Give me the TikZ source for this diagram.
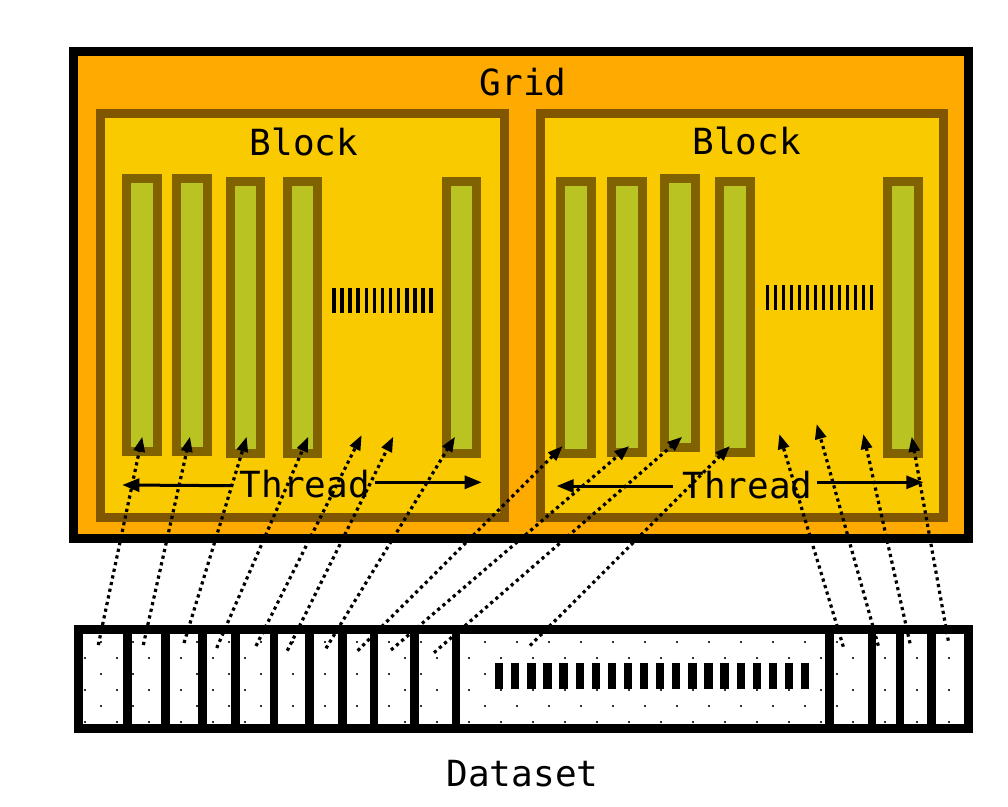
\documentclass[tikz,border=0pt]{standalone}
\usepackage{fontspec}
\newfontfamily\monof{DejaVu Sans Mono}
\usetikzlibrary{arrows.meta}
\definecolor{gridfill}{RGB}{255,170,0}
\definecolor{blockfill}{RGB}{250,202,0}
\definecolor{blockline}{RGB}{128,87,0}
\definecolor{threadline}{RGB}{128,98,0}
\definecolor{threadfill}{RGB}{185,195,34}
\tikzset{
  gridbox/.style={draw=black, fill=gridfill, line width=9pt},
  blockbox/.style={draw=blockline, fill=blockfill, line width=9pt},
  threadbox/.style={draw=threadline, fill=threadfill, line width=9pt},
  txt/.style={font=\monof\fontsize{36}{40}\selectfont, inner sep=0pt, anchor=base},
  maparrow/.style={line width=3.2pt, dash pattern=on 3.2pt off 3.6pt, -{Triangle[length=15pt,width=11pt]}},
  spanarrow/.style={line width=3pt, -{Triangle[length=17pt,width=13pt]}},
  divider/.style={line width=8.5pt},
  databox/.style={draw=black, line width=9pt}
}
\begin{document}
\begin{tikzpicture}[x=1pt,y=-1pt]
\useasboundingbox (0,0) rectangle (1008,806);
% grid
\draw[gridbox] (73.5,51.5) rectangle (968,538);
% blocks
\draw[blockbox] (100.5,113.5) rectangle (504.5,517.5);
\draw[blockbox] (540.5,113.5) rectangle (943.5,517.5);
% threads block 1
\draw[threadbox] (126.5,178.5) rectangle (157.5,451.5);
\draw[threadbox] (176.5,178.5) rectangle (207.5,451.5);
\draw[threadbox] (230.5,181.5) rectangle (260.5,453.5);
\draw[threadbox] (287.5,181.5) rectangle (317.5,453.5);
\draw[threadbox] (446.5,181.5) rectangle (476.5,453.5);
% threads block 2
\draw[threadbox] (560.5,181.2) rectangle (591.2,453.5);
\draw[threadbox] (611.8,181.2) rectangle (642.8,452.5);
\draw[threadbox] (664.5,178.5) rectangle (695.5,447.2);
\draw[threadbox] (719.5,181.2) rectangle (750.5,452.5);
\draw[threadbox] (887.8,181.2) rectangle (918.8,453.5);
% ellipsis bars in blocks
\foreach \i in {0,...,12} \fill (332.3+\i*8.06,288.3) rectangle ++(3.7,25);
\foreach \i in {0,...,13} \fill (765.7+\i*8.0,285) rectangle ++(3.7,25);
% labels
\node[txt] (gridlbl) at (523,95.7) {Grid};
\node[txt] (blockA) at (304,155) {Block};
\node[txt] (blockB) at (746.7,154) {Block};
\node[txt] (threadA) at (305,497.3) {Thread};
\node[txt] (threadB) at (747.5,498) {Thread};
\node[txt] (datalbl) at (522.5,786.7) {Dataset};
% thread span arrows
\coordinate (sa1) at (231.7,485.7); \coordinate (sa2) at (122.3,485);
\coordinate (sa3) at (375,482.3);   \coordinate (sa4) at (481.7,482.3);
\coordinate (sb1) at (673.3,486);   \coordinate (sb2) at (556.7,486);
\coordinate (sb3) at (816.7,482.3); \coordinate (sb4) at (923.3,482.3);
\draw[spanarrow] (sa1) -- (sa2);
\draw[spanarrow] (sa3) -- (sa4);
\draw[spanarrow] (sb1) -- (sb2);
\draw[spanarrow] (sb3) -- (sb4);
% dataset
\fill[white] (78.5,629.5) rectangle (968.5,728.5);
\begin{scope}
\clip (83,634) rectangle (964,724);
\foreach \k in {0,2,4} \foreach \m in {0,...,28}
  \fill[black!80] (69+\m*32-0.9,641.7+\k*16-0.9) rectangle ++(1.8,1.8);
\foreach \k in {1,3,5} \foreach \m in {0,...,28}
  \fill[black!80] (85+\m*32-0.9,641.7+\k*16-0.9) rectangle ++(1.8,1.8);
\end{scope}
\foreach \x in {127.5,165.5,202.3,235.5,273.8,309.5,342.5,373.8,414.5,456.2,829.3,872.2,900,931.7}
  \draw[divider] (\x,629.5) -- (\x,728.5);
\foreach \i in {0,...,19} \fill (495+\i*16.1,663.3) rectangle ++(8.3,25.4);
\draw[databox] (78.5,629.5) rectangle (968.5,728.5);
% mapping arrows
\coordinate (d1) at (98.3,645);   \coordinate (t1) at (142.3,436.7);
\coordinate (d2) at (143.3,645);  \coordinate (t2) at (190,436.7);
\coordinate (d3) at (184,643);    \coordinate (t3) at (246.7,436.7);
\coordinate (d4) at (216.7,648);  \coordinate (t4) at (308.3,436.7);
\coordinate (d5) at (256,646);    \coordinate (t5) at (361.7,435);
\coordinate (d6) at (287.3,650.7);\coordinate (t6) at (393.3,436.7);
\coordinate (d7) at (326,648.3);  \coordinate (t7) at (455,436.7);
\coordinate (d8) at (357.7,650.7);\coordinate (t8) at (562.7,446);
\coordinate (d9) at (391,650);    \coordinate (t9) at (629.3,446);
\coordinate (d10) at (434,652.7); \coordinate (t10) at (682.3,436.7);
\coordinate (d11) at (530,645.7); \coordinate (t11) at (730,446);
\coordinate (d12) at (843.3,646.7);\coordinate (t12) at (779.3,434);
\coordinate (d13) at (878.3,645.7);\coordinate (t13) at (816.7,424);
\coordinate (d14) at (910,643.3); \coordinate (t14) at (863.3,434);
\coordinate (d15) at (948.3,640.7);\coordinate (t15) at (911.7,436.7);
\foreach \n in {1,...,15} \draw[maparrow] (d\n) -- (t\n);
\end{tikzpicture}
\end{document}
